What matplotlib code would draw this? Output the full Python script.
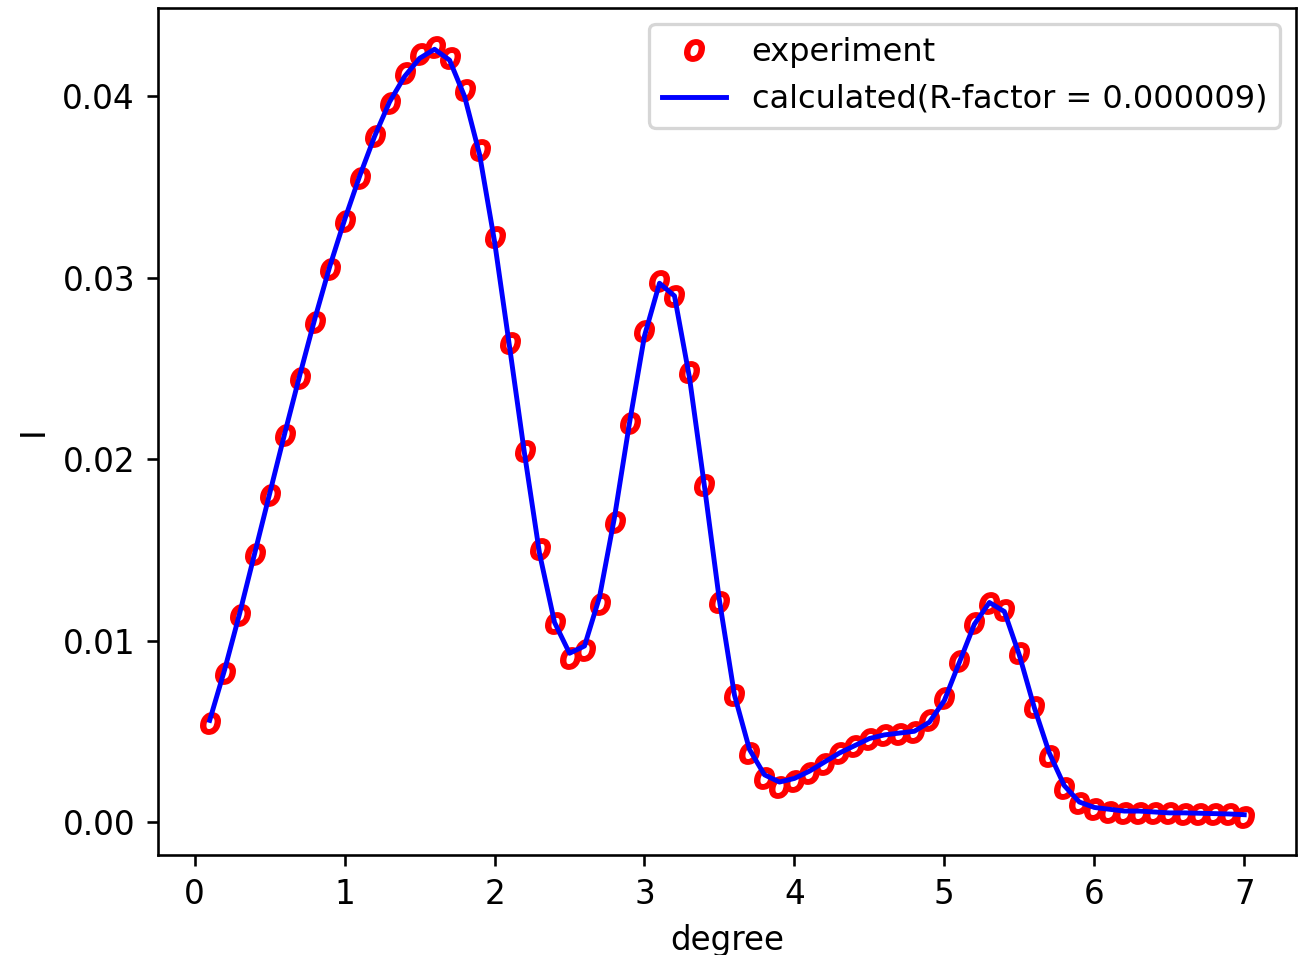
import matplotlib
matplotlib.use('Agg')
import matplotlib.pyplot as plt

degree = [round(0.1 * i, 1) for i in range(1, 71)]

experiment = [
    0.00546, 0.00822, 0.01142, 0.01479, 0.01805, 0.02136, 0.02450, 0.02759, 0.03046, 0.03311,
    0.03549, 0.03780, 0.03962, 0.04128, 0.04233, 0.04275, 0.04211, 0.04034, 0.03703, 0.03223,
    0.02643, 0.02047, 0.01507, 0.01098, 0.00905, 0.00949, 0.01203, 0.01656, 0.02202, 0.02704,
    0.02980, 0.02897, 0.02478, 0.01860, 0.01214, 0.00701, 0.00381, 0.00243, 0.00193, 0.00226,
    0.00270, 0.00320, 0.00381, 0.00419, 0.00458, 0.00480, 0.00486, 0.00497, 0.00563, 0.00684,
    0.00889, 0.01098, 0.01209, 0.01170, 0.00933, 0.00635, 0.00364, 0.00188, 0.00105, 0.00072,
    0.00055, 0.00052, 0.00050, 0.00048, 0.00047, 0.00046, 0.00046, 0.00045, 0.00044, 0.00030,
]

calculated = [
    0.00560, 0.00840, 0.01150, 0.01480, 0.01810, 0.02140, 0.02460, 0.02770, 0.03060, 0.03320,
    0.03560, 0.03780, 0.03970, 0.04110, 0.04210, 0.04260, 0.04200, 0.04000, 0.03680, 0.03200,
    0.02620, 0.02030, 0.01480, 0.01100, 0.00930, 0.00970, 0.01240, 0.01680, 0.02200, 0.02680,
    0.02970, 0.02900, 0.02450, 0.01850, 0.01220, 0.00700, 0.00400, 0.00260, 0.00220, 0.00240,
    0.00280, 0.00330, 0.00380, 0.00420, 0.00460, 0.00480, 0.00490, 0.00500, 0.00550, 0.00670,
    0.00880, 0.01090, 0.01210, 0.01160, 0.00920, 0.00630, 0.00380, 0.00200, 0.00110, 0.00080,
    0.00070, 0.00060, 0.00060, 0.00055, 0.00050, 0.00050, 0.00048, 0.00046, 0.00044, 0.00040,
]

r_factor = '0.000009'

# reference looks like a default-styled figure rendered at ~235 dpi
dpi = 235
fig = plt.figure(figsize=(1300 / dpi, 955 / dpi), dpi=dpi)
ax = fig.add_axes([0.1215, 0.1047, 0.8754, 0.8869])

ax.plot(degree, experiment, linestyle='none', marker='$o$',
        color='red', label='experiment')
ax.plot(degree, calculated, color='blue',
        label='calculated(R-factor = ' + r_factor + ')')

ax.set_xlabel('degree')
ax.set_ylabel('I')
ax.legend(loc='upper right', numpoints=1, fontsize=9.8)

fig.savefig('out.png', dpi=dpi)
